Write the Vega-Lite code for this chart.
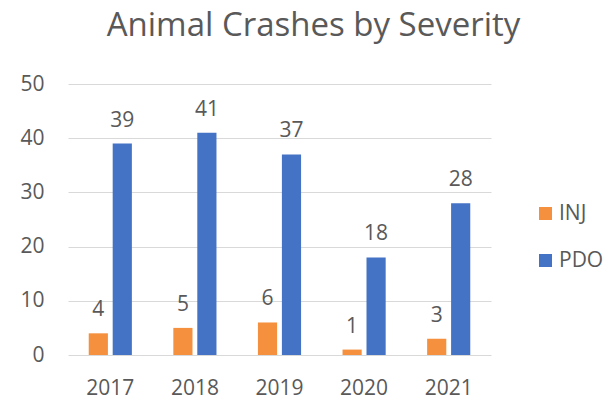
{
  "$schema": "https://vega.github.io/schema/vega-lite/v6.json",
  "autosize": {"type": "none"},
  "padding": {"left": 68, "top": 84, "right": 122, "bottom": 46},
  "width": 423,
  "height": 271,
  "background": "white",
  "title": {
    "text": "Animal Crashes by Severity",
    "font": "Open Sans",
    "fontSize": 33,
    "fontWeight": "normal",
    "color": "#595959",
    "anchor": "middle",
    "frame": "group",
    "dx": 34,
    "offset": 30
  },
  "data": {
    "values": [
      {"year": "2017", "severity": "INJ", "count": 4},
      {"year": "2017", "severity": "PDO", "count": 39},
      {"year": "2018", "severity": "INJ", "count": 5},
      {"year": "2018", "severity": "PDO", "count": 41},
      {"year": "2019", "severity": "INJ", "count": 6},
      {"year": "2019", "severity": "PDO", "count": 37},
      {"year": "2020", "severity": "INJ", "count": 1},
      {"year": "2020", "severity": "PDO", "count": 18},
      {"year": "2021", "severity": "INJ", "count": 3},
      {"year": "2021", "severity": "PDO", "count": 28}
    ]
  },
  "encoding": {
    "x": {
      "field": "year", "type": "nominal",
      "scale": {"paddingInner": 0.49, "paddingOuter": 0.245},
      "axis": {
        "title": null, "labelAngle": 0, "domain": false, "ticks": false,
        "labelPadding": 22, "labelFont": "Open Sans", "labelFontSize": 21,
        "labelColor": "#595959"
      }
    },
    "xOffset": {
      "field": "severity", "type": "nominal",
      "scale": {"paddingInner": 0.2, "paddingOuter": 0}
    },
    "y": {
      "field": "count", "type": "quantitative",
      "scale": {"domain": [0, 50], "nice": false},
      "axis": {
        "title": null, "values": [0, 10, 20, 30, 40, 50], "domain": false, "ticks": false,
        "labelPadding": 24, "labelFont": "Open Sans", "labelFontSize": 21,
        "labelColor": "#595959", "gridColor": "#d9d9d9", "gridWidth": 1
      }
    }
  },
  "layer": [
    {
      "mark": {"type": "bar"},
      "encoding": {
        "color": {
          "field": "severity", "type": "nominal",
          "scale": {"domain": ["INJ", "PDO"], "range": ["#F5903F", "#4472C4"]},
          "legend": {
            "title": null, "orient": "none", "legendX": 467, "legendY": 119,
            "symbolType": "square", "symbolSize": 169, "symbolStrokeWidth": 0,
            "labelFont": "Open Sans", "labelFontSize": 21, "labelColor": "#595959",
            "rowPadding": 25, "labelOffset": 3
          }
        }
      }
    },
    {
      "mark": {"type": "text", "font": "Open Sans", "fontSize": 21, "color": "#595959", "baseline": "alphabetic", "dy": -17},
      "encoding": {
        "text": {"field": "count", "type": "quantitative"}
      }
    }
  ],
  "config": {
    "view": {"stroke": null}
  }
}
